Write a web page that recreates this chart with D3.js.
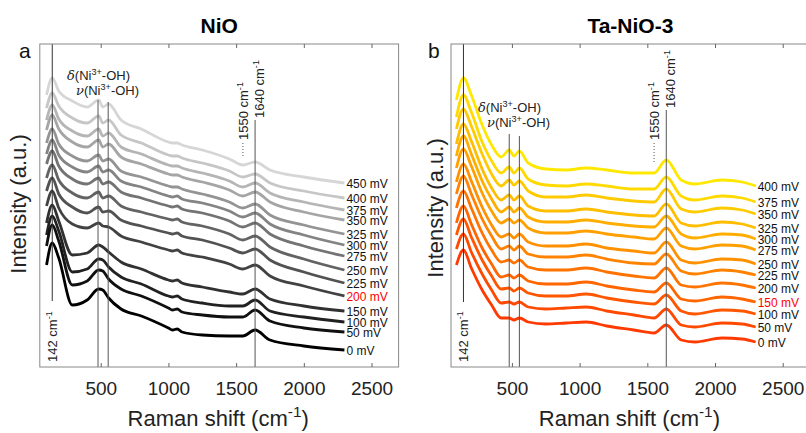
<!DOCTYPE html>
<html>
<head>
<meta charset="utf-8">
<script src="https://cdn.jsdelivr.net/npm/d3@7"></script>
<style>
  body { margin: 0; background: #fff; }
  svg { font-family: "Liberation Sans", Arial, Helvetica, sans-serif; }
</style>
</head>
<body>
<div id="chart"></div>
<script>
// ---- data (Raman shift in cm-1, intensity in a.u. above each trace's own baseline) ----
var xTicks = [500, 1000, 1500, 2000, 2500];

// NiO panel
var shiftsNiO = [100, 142, 190, 290, 400, 485, 515, 558, 650, 800, 1000, 1030, 1065, 1100, 1250, 1450, 1550, 1640, 1750, 2000, 2300];
var potentialsNiO = ["0 mV", "50 mV", "100 mV", "150 mV", "200 mV", "225 mV", "250 mV", "275 mV", "300 mV", "325 mV", "350 mV", "375 mV", "400 mV", "450 mV"];
var offsetsNiO = [15, 33, 43, 54, 69, 82, 95, 109, 120, 131, 145, 155, 167, 182];
var spectraNiO = [
  [85, 107, 92, 45, 50, 61, 60, 52, 41, 34, 22, 20, 21, 18, 15, 14, 14, 20, 10, 4, 0],
  [86, 107, 91, 47, 51, 62, 61, 53, 43, 36, 24, 22, 23, 20, 17, 15, 15, 22, 11, 4, 0],
  [87, 106, 91, 50, 53, 63, 62, 55, 45, 38, 26, 25, 26, 23, 19, 16, 16, 22, 11, 5, 0],
  [88, 106, 90, 56, 58, 66, 64, 59, 49, 42, 31, 30, 31, 28, 24, 19, 17, 22, 12, 5, 0],
  [90, 105, 88, 72, 68, 73, 70, 69, 60, 54, 46, 45, 46, 43, 39, 32, 27, 31, 20, 10, 0],
  [92, 105, 89, 76, 70, 76, 71, 72, 63, 57, 50, 49, 50, 47, 43, 35, 30, 34, 23, 11, 0],
  [92, 105, 90, 77, 72, 78, 72, 74, 64, 58, 51, 50, 51, 48, 44, 36, 30, 34, 23, 11, 0],
  [92, 105, 90, 77, 72, 78, 72, 74, 64, 58, 50, 49, 50, 47, 43, 35, 29, 33, 22, 10, 0],
  [91, 105, 90, 78, 73, 79, 73, 75, 64, 58, 49, 48, 49, 46, 42, 34, 28, 32, 21, 10, 0],
  [91, 105, 90, 78, 73, 79, 73, 75, 63, 57, 48, 47, 47, 45, 40, 32, 26, 30, 19, 9, 0],
  [90, 105, 91, 78, 73, 80, 73, 76, 63, 56, 46, 45, 45, 43, 38, 30, 24, 28, 18, 8, 0],
  [90, 105, 91, 79, 74, 81, 74, 77, 63, 56, 45, 44, 44, 42, 37, 29, 23, 27, 17, 8, 0],
  [90, 105, 92, 80, 75, 82, 75, 78, 63, 55, 43, 42, 42, 40, 35, 27, 21, 24, 15, 7, 0],
  [88, 105, 92, 82, 76, 83, 76, 79, 63, 54, 41, 40, 40, 38, 33, 24, 18, 21, 13, 6, 0]
];

// Ta-NiO-3 panel
var shiftsTa = [90, 142, 200, 280, 350, 420, 480, 515, 555, 620, 750, 900, 1050, 1200, 1400, 1550, 1640, 1750, 1850, 2050, 2200, 2300];
var potentialsTa = ["0 mV", "50 mV", "100 mV", "150 mV", "200 mV", "225 mV", "250 mV", "275 mV", "300 mV", "325 mV", "350 mV", "375 mV", "400 mV"];
var offsetsTa = [23, 38, 51, 63, 77, 90, 101, 115, 126, 137, 151, 163, 179];
var spectraTa = [
  [77, 92, 74, 52, 37, 24, 24, 22, 24, 20, 18, 19, 20, 16, 12, 9, 17, 2, 0, 4, 3, 0],
  [78, 93, 75, 53, 37, 24, 25, 23, 25, 20, 18, 19, 20, 16, 12, 9, 18, 2, 0, 4, 3, 0],
  [79, 95, 77, 54, 38, 25, 26, 23, 26, 21, 18, 18, 20, 16, 12, 10, 19, 3, 0, 4, 3, 0],
  [79, 96, 78, 54, 38, 25, 27, 24, 27, 21, 18, 18, 20, 16, 12, 10, 19, 3, 1, 5, 3, 0],
  [80, 97, 80, 55, 38, 26, 28, 25, 28, 21, 18, 18, 20, 16, 12, 10, 20, 3, 1, 5, 3, 0],
  [81, 99, 81, 56, 39, 26, 29, 25, 29, 21, 18, 18, 20, 16, 12, 11, 21, 4, 1, 5, 3, 0],
  [82, 100, 83, 57, 39, 27, 30, 26, 30, 22, 18, 18, 20, 16, 13, 11, 22, 4, 1, 5, 4, 0],
  [82, 101, 84, 57, 39, 27, 31, 27, 30, 22, 17, 17, 19, 16, 13, 11, 22, 4, 1, 5, 4, 0],
  [83, 103, 85, 58, 40, 27, 32, 27, 31, 22, 17, 17, 19, 16, 13, 12, 23, 5, 1, 5, 4, 0],
  [84, 104, 87, 59, 40, 28, 33, 28, 32, 22, 17, 17, 19, 16, 13, 12, 24, 5, 2, 6, 4, 0],
  [85, 105, 88, 60, 40, 28, 34, 29, 33, 23, 17, 17, 19, 16, 13, 12, 25, 5, 2, 6, 4, 0],
  [85, 107, 90, 60, 41, 29, 35, 29, 34, 23, 17, 16, 18, 16, 13, 13, 25, 6, 2, 6, 4, 0],
  [86, 108, 91, 61, 41, 29, 36, 30, 35, 23, 17, 16, 18, 16, 13, 13, 26, 6, 2, 6, 4, 0]
];

// marked bands (cm-1)
var bandLattice = 142;
var bandDelta = 480;
var bandNu = 555;
var bandWaterA = 1550;
var bandWaterB = 1640;

var W = 806, H = 433;
var plotTop = 44, plotBottom = 367, plotWidth = 358.8;

var svg = d3.select("#chart").append("svg")
  .attr("width", W)
  .attr("height", H);

function sup(sel, base, s, tail) {
  sel.append("tspan").text(base);
  sel.append("tspan").attr("font-size", "70%").attr("dy", -5).text(s);
  sel.append("tspan").attr("dy", 5).text(tail);
}

function drawPanel(p) {
  var x = d3.scaleLinear().domain([50, 2700]).range([p.left, p.left + plotWidth]);
  var y = d3.scaleLinear().domain([-2, 321]).range([plotBottom, plotTop]);
  var g = svg.append("g");

  // traces
  var line = d3.line()
    .x(function(d) { return x(d[0]); })
    .y(function(d) { return y(d[1]); })
    .curve(d3.curveMonotoneX);

  var n = p.spectra.length;
  for (var i = n - 1; i >= 0; i--) {
    var pts = p.shifts.map(function(s, j) { return [s, p.offsets[i] + p.spectra[i][j]]; });
    g.append("path")
      .attr("d", line(pts))
      .attr("fill", "none")
      .attr("stroke", p.color(i))
      .attr("stroke-width", 2.8)
      .attr("stroke-linejoin", "round");
  }

  // trace labels
  g.selectAll(".lab")
    .data(p.potentials)
    .enter().append("text")
    .attr("x", x(2300) + 2)
    .attr("y", function(d, i) { return y(p.offsets[i]) + 2; })
    .attr("dominant-baseline", "middle")
    .attr("font-size", 12)
    .attr("fill", function(d) { return d === p.highlight ? "#ff0000" : "#111"; })
    .text(function(d) { return d; });

  // band markers
  var lc = "#555";
  g.append("line").attr("x1", x(bandLattice)).attr("x2", x(bandLattice))
    .attr("y1", plotTop).attr("y2", p.latticeEnd).attr("stroke", "#333");
  g.append("text")
    .attr("transform", "translate(" + (x(bandLattice) + 4.5) + "," + (plotBottom - 5) + ") rotate(-90)")
    .attr("font-size", 13).attr("fill", "#222")
    .call(sup, "142 cm", "-1", "");

  [bandDelta, bandNu].forEach(function(b, k) {
    g.append("line").attr("x1", x(b)).attr("x2", x(b))
      .attr("y1", p.bandTop + k * 2).attr("y2", plotBottom).attr("stroke", lc);
  });
  var t1 = g.append("text").attr("x", p.deltaX).attr("y", p.deltaY).attr("font-size", 13).attr("fill", "#222");
  t1.append("tspan").attr("font-family", "DejaVu Serif, serif").attr("font-style", "italic").text("\u03b4");
  sup(t1, "(Ni", "3+", "-OH)");
  var t2 = g.append("text").attr("x", p.deltaX + 9).attr("y", p.deltaY + 15).attr("font-size", 13).attr("fill", "#222");
  t2.append("tspan").attr("font-family", "DejaVu Serif, serif").attr("font-style", "italic").text("\u03bd");
  sup(t2, "(Ni", "3+", "-OH)");

  g.append("line").attr("x1", x(bandWaterB)).attr("x2", x(bandWaterB))
    .attr("y1", p.waterTop).attr("y2", plotBottom).attr("stroke", lc);
  g.append("line").attr("x1", x(bandWaterA)).attr("x2", x(bandWaterA))
    .attr("y1", 143).attr("y2", p.dotEnd).attr("stroke", lc)
    .attr("stroke-dasharray", "1,2");
  g.append("text")
    .attr("transform", "translate(" + (x(bandWaterA) + 5) + "," + 140 + ") rotate(-90)")
    .attr("font-size", 13).attr("fill", "#222")
    .call(sup, "1550 cm", "-1", "");
  g.append("text")
    .attr("transform", "translate(" + (x(bandWaterB) + 9) + "," + (p.waterTop - 2) + ") rotate(-90)")
    .attr("font-size", 13).attr("fill", "#222")
    .call(sup, "1640 cm", "-1", "");

  // frame
  g.append("rect")
    .attr("x", p.left).attr("y", plotTop)
    .attr("width", plotWidth).attr("height", plotBottom - plotTop)
    .attr("fill", "none").attr("stroke", "#888");

  // axes
  var axB = g.append("g").attr("transform", "translate(0," + plotBottom + ")")
    .call(d3.axisBottom(x).tickValues(xTicks).tickSize(-4).tickPadding(14.5).tickFormat(d3.format("d")));
  axB.select(".domain").remove();
  axB.selectAll("line").attr("stroke", "#666");
  axB.selectAll("text").attr("font-size", 19).attr("fill", "#222")
    .attr("font-family", "Liberation Sans, Arial, sans-serif");
  var axT = g.append("g").attr("transform", "translate(0," + plotTop + ")")
    .call(d3.axisTop(x).tickValues(xTicks).tickSize(-4).tickFormat(""));
  axT.select(".domain").remove();
  axT.selectAll("line").attr("stroke", "#666");

  // axis titles
  var xl = g.append("text")
    .attr("x", p.left + plotWidth / 2 - 1).attr("y", 426)
    .attr("text-anchor", "middle").attr("font-size", 22).attr("fill", "#222");
  sup(xl, "Raman shift (cm", "-1", ")");
  xl.selectAll("tspan").filter(function(d, i) { return i === 1; }).attr("dy", -9);
  xl.selectAll("tspan").filter(function(d, i) { return i === 2; }).attr("dy", 9);

  g.append("text")
    .attr("transform", "translate(" + p.ylabX + "," + p.ylabY + ") rotate(-90)")
    .attr("text-anchor", "middle").attr("font-size", 22).attr("fill", "#222")
    .text("Intensity (a.u.)");

  // title and panel letter
  g.append("text")
    .attr("x", p.left + plotWidth / 2).attr("y", 33)
    .attr("text-anchor", "middle").attr("font-size", 21).attr("font-weight", "bold")
    .text(p.title);
  g.append("text")
    .attr("x", p.letterX).attr("y", 58)
    .attr("font-size", 21).attr("fill", "#111")
    .text(p.letter);
}

drawPanel({
  left: 39.8,
  title: "NiO",
  letter: "a", letterX: 19,
  shifts: shiftsNiO, offsets: offsetsNiO, spectra: spectraNiO, potentials: potentialsNiO,
  highlight: "200 mV",
  color: d3.scaleLinear().domain([0, 13]).range(["#000000", "#d6d6d6"]),
  latticeEnd: 301,
  bandTop: 100, deltaX: 67, deltaY: 80,
  waterTop: 120, dotEnd: 158,
  ylabX: 26, ylabY: 204
});

drawPanel({
  left: 451,
  title: "Ta-NiO-3",
  letter: "b", letterX: 428,
  shifts: shiftsTa, offsets: offsetsTa, spectra: spectraTa, potentials: potentialsTa,
  highlight: "150 mV",
  color: d3.scaleLinear().domain([0, 12]).range(["#ff3a00", "#ffe800"]),
  latticeEnd: 302,
  bandTop: 134, deltaX: 478, deltaY: 112,
  waterTop: 110, dotEnd: 163,
  ylabX: 443, ylabY: 208
});
</script>
</body>
</html>
